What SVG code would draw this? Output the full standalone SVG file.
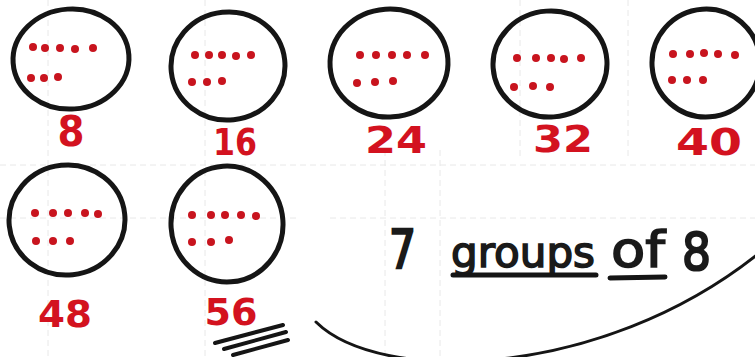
<svg xmlns="http://www.w3.org/2000/svg" width="755" height="357" viewBox="0 0 755 357">
<defs>
<style>
.grid{stroke:#e8e8e8;stroke-width:1;fill:none;stroke-dasharray:6 4}
.ring{fill:none;stroke:#151515;stroke-width:5}
.dot circle{fill:#c8141e;r:4px}
.num{font-family:"DejaVu Sans",sans-serif;font-weight:bold;fill:#d3121f;font-size:38px;text-anchor:middle}
.hand{font-family:"DejaVu Sans",sans-serif;fill:#1a1a1a;stroke:#1a1a1a;stroke-width:1.6}
.ink{stroke:#151515;fill:none;stroke-linecap:round}
</style>
</defs>
<rect width="755" height="357" fill="#ffffff"/>
<g id="grid">
<path class="grid" d="M0 165H755M0 218H300M330 218H755M205 0V357M385 150V357M440 150V357M520 0V160M628 0V160M48 0V357"/>
</g>
<g id="group1">
<ellipse class="ring" cx="71" cy="59" rx="58" ry="50" transform="rotate(-4 71 59)"/>
<g class="dot"><circle cx="33" cy="47" r="4"/><circle cx="45" cy="48" r="4"/><circle cx="60" cy="48" r="4"/><circle cx="75" cy="49" r="4"/><circle cx="93" cy="48" r="4"/><circle cx="31" cy="78" r="4"/><circle cx="44" cy="78" r="4"/><circle cx="58" cy="77" r="4"/></g>
<text class="num" x="71" y="146" style="font-size:43px" textLength="27" lengthAdjust="spacingAndGlyphs">8</text>
</g>
<g id="group2">
<ellipse class="ring" cx="228" cy="66" rx="57" ry="54" transform="rotate(-6 228 66)"/>
<g class="dot"><circle cx="195" cy="55" r="4"/><circle cx="209" cy="55" r="4"/><circle cx="222" cy="55" r="4"/><circle cx="236" cy="56" r="4"/><circle cx="251" cy="55" r="4"/><circle cx="192" cy="82" r="4"/><circle cx="207" cy="82" r="4"/><circle cx="222" cy="81" r="4"/></g>
<text class="num" x="235" y="155" textLength="44" lengthAdjust="spacingAndGlyphs">16</text>
</g>
<g id="group3">
<ellipse class="ring" cx="389" cy="63" rx="59" ry="54" transform="rotate(-4 389 63)"/>
<g class="dot"><circle cx="360" cy="55" r="4"/><circle cx="376" cy="55" r="4"/><circle cx="392" cy="55" r="4"/><circle cx="407" cy="55" r="4"/><circle cx="425" cy="55" r="4"/><circle cx="357" cy="83" r="4"/><circle cx="375" cy="82" r="4"/><circle cx="393" cy="81" r="4"/></g>
<text class="num" x="396" y="153" textLength="62" lengthAdjust="spacingAndGlyphs">24</text>
</g>
<g id="group4">
<ellipse class="ring" cx="550" cy="64" rx="57" ry="53" transform="rotate(-4 550 64)"/>
<g class="dot"><circle cx="517" cy="58" r="4"/><circle cx="536" cy="58" r="4"/><circle cx="551" cy="58" r="4"/><circle cx="564" cy="59" r="4"/><circle cx="581" cy="58" r="4"/><circle cx="514" cy="87" r="4"/><circle cx="533" cy="86" r="4"/><circle cx="550" cy="87" r="4"/></g>
<text class="num" x="563" y="152" textLength="60" lengthAdjust="spacingAndGlyphs">32</text>
</g>
<g id="group5">
<ellipse class="ring" cx="706" cy="63" rx="54" ry="54" transform="rotate(-4 706 63)"/>
<g class="dot"><circle cx="673" cy="54" r="4"/><circle cx="690" cy="54" r="4"/><circle cx="704" cy="53" r="4"/><circle cx="718" cy="54" r="4"/><circle cx="735" cy="55" r="4"/><circle cx="672" cy="80" r="4"/><circle cx="687" cy="80" r="4"/><circle cx="703" cy="80" r="4"/></g>
<text class="num" x="709" y="155" textLength="66" lengthAdjust="spacingAndGlyphs">40</text>
</g>
<g id="group6">
<ellipse class="ring" cx="67" cy="220" rx="58" ry="55" transform="rotate(-6 67 220)"/>
<g class="dot"><circle cx="35" cy="213" r="4"/><circle cx="53" cy="213" r="4"/><circle cx="68" cy="213" r="4"/><circle cx="85" cy="213" r="4"/><circle cx="98" cy="214" r="4"/><circle cx="36" cy="241" r="4"/><circle cx="53" cy="241" r="4"/><circle cx="70" cy="241" r="4"/></g>
<text class="num" x="65" y="327" textLength="54" lengthAdjust="spacingAndGlyphs">48</text>
</g>
<g id="group7">
<ellipse class="ring" cx="227" cy="224" rx="56" ry="58" transform="rotate(-4 227 224)"/>
<g class="dot"><circle cx="192" cy="215" r="4"/><circle cx="211" cy="215" r="4"/><circle cx="225" cy="215" r="4"/><circle cx="241" cy="215" r="4"/><circle cx="256" cy="216" r="4"/><circle cx="192" cy="242" r="4"/><circle cx="211" cy="242" r="4"/><circle cx="229" cy="240" r="4"/></g>
<text class="num" x="231" y="325" textLength="53" lengthAdjust="spacingAndGlyphs">56</text>
</g>
<g id="answer-marks">
<path class="ink" stroke-width="4" d="M215 343L283 325M224 349L286 332M233 355L288 340"/>
</g>
<g id="label">
<path class="ink" stroke-width="3" d="M316 322C380 385 600 380 758 254"/>
<text class="hand" x="389" y="268" style="font-size:54px;stroke-width:2.4" textLength="27" lengthAdjust="spacingAndGlyphs">7</text>
<text class="hand" x="451" y="267" style="font-size:42px" textLength="144" lengthAdjust="spacingAndGlyphs">groups</text>
<text class="hand" x="611" y="267" style="font-size:50px" textLength="54" lengthAdjust="spacingAndGlyphs">of</text>
<text class="hand" x="682" y="270" style="font-size:52px;stroke-width:2.2" textLength="29" lengthAdjust="spacingAndGlyphs">8</text>
<path class="ink" stroke-width="5" d="M453 275L596 275M610 278L665 277"/>
</g>
</svg>
